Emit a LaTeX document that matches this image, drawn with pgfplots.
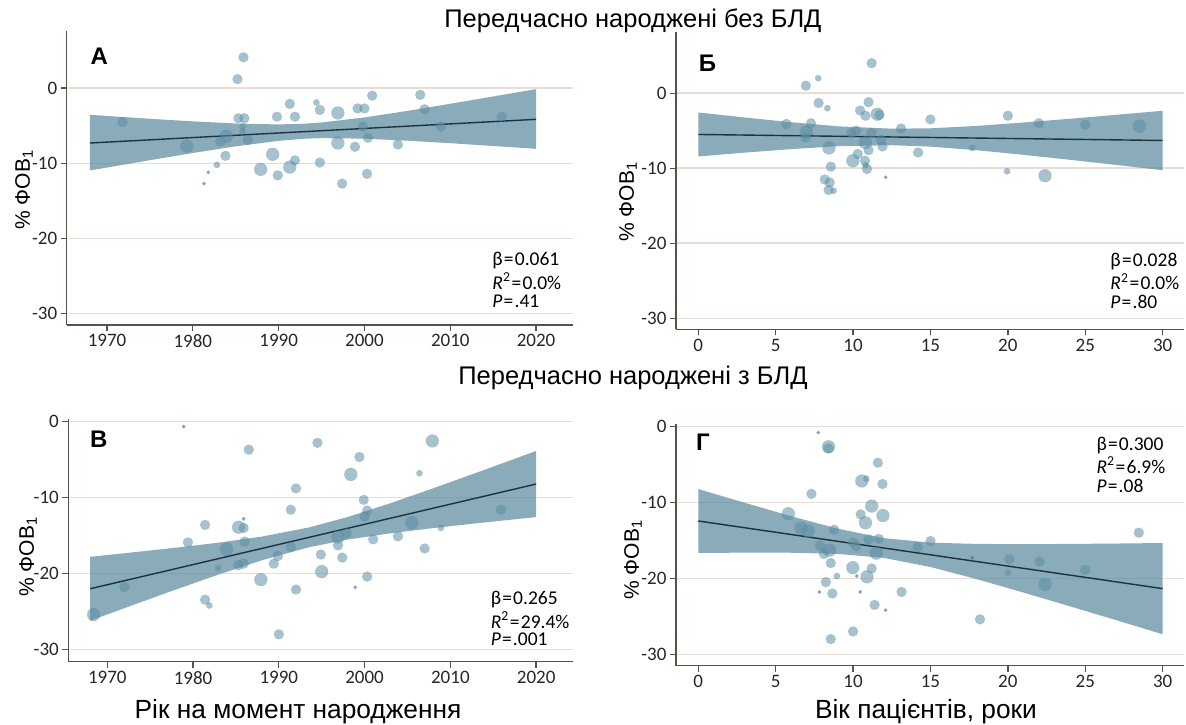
\documentclass[border=0pt]{standalone}
\usepackage{pgfplots}
\pgfplotsset{compat=1.18}
\usepgfplotslibrary{fillbetween}
\usepackage{fontspec}
\setmainfont{Liberation Sans}
\newfontfamily\tickfont{Carlito}

\definecolor{gridc}{RGB}{234,220,214}
\definecolor{axisc}{RGB}{92,80,76}
\definecolor{bandc}{RGB}{92,138,160}
\definecolor{ptc}{RGB}{92,144,166}
\definecolor{linec}{RGB}{28,50,62}

\pgfplotsset{
  panel/.style={
    scale only axis, anchor=south west,
    axis lines*=left,
    axis line style={axisc, line width=1.3pt},
    tick align=outside, major tick length=6pt,
    tick style={axisc, line width=1.3pt},
    ymajorgrids, major grid style={gridc, line width=1.5pt},
    ytick={-30,-20,-10,0}, yticklabels={-30,-20,-10,0},
    tick label style={font=\tickfont\fontsize{19}{19}\selectfont, text=black!85},
    clip=false,
  },
  yearx/.style={xtick={1970,1980,1990,2000,2010,2020}, xticklabels={1970,1980,1990,2000,2010,2020}},
  agex/.style={xtick={0,5,10,15,20,25,30}, xticklabels={0,5,10,15,20,25,30}},
  pt/.style={only marks, mark=*, color=ptc, mark size=#1, mark options={draw=ptc!70!black, draw opacity=0.15, line width=0.4pt, fill=ptc, fill opacity=0.55}},
  ptL/.style={pt=6.5pt},
  ptM/.style={pt=5pt},
  ptS/.style={pt=3.2pt},
  ptT/.style={only marks, mark=*, color=ptc, mark size=1.8pt, mark options={draw=ptc!70!black, draw opacity=0.2, fill=ptc!80!black, fill opacity=0.65}},
  band/.style={fill=bandc, fill opacity=0.72, draw=none},
  regl/.style={linec, line width=1.4pt},
}
\newcommand{\ann}[1]{\tickfont\fontsize{19.5}{19.5}\selectfont #1}
\newcommand{\eq}{\hspace{1.2pt}=\hspace{1.2pt}}
\newcommand{\plab}[1]{\fontsize{24}{24}\selectfont\bfseries #1}

\begin{document}
\begin{tikzpicture}

% ---------------- Panel A ----------------
\begin{axis}[panel, yearx, at={(66.7pt,400pt)}, width=506.3pt, height=294pt,
  xmin=1965.3, xmax=2024.3, ymin=-31.5, ymax=7.6]
\addplot[name path=ua, draw=none] coordinates {(1968,-3.55) (1975,-4.08) (1980,-4.42) (1985,-4.70) (1990,-4.83) (1993,-4.73) (1995,-4.57) (2000,-3.90) (2005,-3.03) (2010,-2.08) (2015,-1.11) (2020,-0.13)};
\addplot[name path=la, draw=none] coordinates {(1968,-10.95) (1975,-9.58) (1980,-8.62) (1985,-7.74) (1990,-7.01) (1993,-6.73) (1995,-6.65) (2000,-6.72) (2005,-6.99) (2010,-7.32) (2015,-7.69) (2020,-8.07)};
\addplot[band] fill between[of=ua and la];
\addplot[ptL] coordinates {(1979.3,-7.7) (1983.9,-6.4) (1989.3,-8.8) (1987.9,-10.8) (1991.3,-10.5) (1996.9,-3.3) (1996.9,-7.3)};
\addplot[ptM] coordinates {(1985.9,4.1) (1985.2,1.2) (1971.8,-4.5) (1983.2,-7.1) (1983.8,-9.0) (1985.3,-4.0) (1986.0,-4.0) (1986.4,-6.9) (1989.8,-3.8) (1991.3,-2.1) (1991.9,-3.8) (1989.9,-11.6) (1991.9,-9.6) (1994.8,-2.9) (1994.8,-9.9) (1997.4,-12.7) (1998.9,-7.8) (1999.2,-2.7) (2000.0,-2.7) (1999.8,-5.1) (2000.4,-6.6) (2000.9,-1.0) (2000.3,-11.4) (2003.9,-7.5) (2006.5,-0.9) (2007.0,-2.8) (2008.9,-5.1) (2016.0,-3.8)};
\addplot[ptS] coordinates {(1985.8,-5.1) (1985.8,-5.8) (1982.8,-10.2) (1994.4,-1.9)};
\addplot[ptT] coordinates {(1981.8,-11.2) (1981.3,-12.7)};
\addplot[regl] coordinates {(1968,-7.3) (2020,-4.15)};
\node[anchor=west] at (axis cs:2014.5,-22.9) {\ann{β\eq0.061}};
\node[anchor=west] at (axis cs:2014.5,-25.7) {\ann{\textit{R}\textsuperscript{2}\eq0.0\%}};
\node[anchor=west] at (axis cs:2014.5,-28.4) {\ann{\textit{P}\eq.41}};
\node at (axis cs:1969.1,4.2) {\plab{А}};
\end{axis}

% ---------------- Panel Б ----------------
\begin{axis}[panel, agex, at={(676pt,395.7pt)}, width=508pt, height=297.6pt,
  xmin=-1.44, xmax=31.38, ymin=-31.47, ymax=8.2]
\addplot[name path=ub, draw=none] coordinates {(0,-2.57) (3,-3.24) (6,-3.87) (9,-4.41) (12.5,-4.73) (15,-4.68) (18,-4.36) (21,-3.91) (24,-3.41) (27,-2.88) (30,-2.34)};
\addplot[name path=lb, draw=none] coordinates {(0,-8.43) (3,-7.92) (6,-7.45) (9,-7.07) (12.5,-6.93) (15,-7.12) (18,-7.60) (21,-8.21) (24,-8.87) (27,-9.56) (30,-10.26)};
\addplot[band] fill between[of=ub and lb];
\addplot[ptL] coordinates {(6.98,-5.2) (8.44,-7.3) (11.56,-2.8) (10.8,-6.6) (9.98,-9.0) (22.4,-11.0) (28.5,-4.4)};
\addplot[ptM] coordinates {(11.2,4.0) (6.95,1.0) (7.77,-1.3) (5.69,-4.1) (7.28,-4.0) (6.93,-5.9) (8.56,-9.8) (8.17,-11.5) (8.49,-11.9) (8.42,-12.9) (11.0,-1.2) (10.45,-2.3) (10.8,-3.0) (11.7,-2.9) (9.9,-5.3) (10.2,-5.0) (11.2,-5.3) (11.8,-6.2) (11.9,-7.1) (11.0,-7.6) (10.3,-8.1) (10.77,-9.0) (10.9,-10.1) (13.1,-4.7) (14.2,-7.9) (15.0,-3.5) (20.0,-3.0) (22.0,-4.0) (25.0,-4.2)};
\addplot[ptS] coordinates {(7.75,2.0) (8.34,-2.0) (8.74,-13.0) (10.8,-9.6) (17.7,-7.3) (19.95,-10.4)};
\addplot[ptT] coordinates {(12.1,-11.2)};
\addplot[regl] coordinates {(0,-5.5) (30,-6.3)};
\node[anchor=west] at (axis cs:26.4,-22.5) {\ann{β\eq0.028}};
\node[anchor=west] at (axis cs:26.4,-25.1) {\ann{\textit{R}\textsuperscript{2}\eq0.0\%}};
\node[anchor=west] at (axis cs:26.4,-27.8) {\ann{\textit{P}\eq.80}};
\node at (axis cs:0.6,4.0) {\plab{Б}};
\end{axis}

% ---------------- Panel В ----------------
\begin{axis}[panel, yearx, at={(68.3pt,63.3pt)}, width=504.7pt, height=242.4pt,
  xmin=1965.45, xmax=2024.3, ymin=-31.6, ymax=0.3]
\addplot[name path=uc, draw=none] coordinates {(1968,-17.80) (1973,-17.21) (1978,-16.60) (1983,-15.93) (1988,-15.14) (1993.5,-13.94) (1998,-12.57) (2003,-10.75) (2008,-8.78) (2013,-6.75) (2020,-3.87)};
\addplot[name path=lc, draw=none] coordinates {(1968,-26.20) (1973,-24.14) (1978,-22.10) (1983,-20.12) (1988,-18.26) (1993.5,-16.54) (1998,-15.53) (2003,-14.70) (2008,-14.02) (2013,-13.39) (2020,-12.57)};
\addplot[band] fill between[of=uc and lc];
\addplot[ptL] coordinates {(2007.9,-2.55) (1998.4,-6.95) (1985.3,-13.9) (2005.5,-13.3) (1983.9,-16.8) (1996.9,-15.2) (1995.0,-19.75) (1987.9,-20.8) (1968.4,-25.4)};
\addplot[ptM] coordinates {(1986.5,-3.7) (1994.5,-2.8) (1999.4,-4.66) (1992.0,-8.8) (1999.9,-10.3) (2000.3,-11.7) (2000.0,-12.5) (1991.4,-11.6) (2015.9,-11.6) (1981.4,-13.6) (1985.9,-14.0) (1979.4,-15.9) (1986.0,-15.8) (1991.4,-16.5) (1997.9,-14.7) (1996.9,-16.3) (2003.9,-15.1) (2001.0,-15.5) (2007.0,-16.7) (1989.9,-17.7) (1994.9,-17.5) (1997.4,-17.9) (1989.4,-18.7) (1985.3,-18.9) (1985.9,-18.7) (2000.3,-20.4) (1992.0,-22.1) (1972.0,-21.8) (1981.4,-23.45) (1990.0,-28.0)};
\addplot[ptS] coordinates {(2006.4,-6.8) (2008.9,-14.0) (1982.9,-19.3) (1981.9,-24.2)};
\addplot[ptT] coordinates {(1978.9,-0.66) (1998.9,-21.8) (1985.9,-12.8)};
\addplot[regl] coordinates {(1968,-22.0) (2020,-8.22)};
\node[anchor=west] at (axis cs:2014.3,-23.45) {\ann{β\eq0.265}};
\node[anchor=west] at (axis cs:2014.3,-26.1) {\ann{\textit{R}\textsuperscript{2}\eq29.4\%}};
\node[anchor=west] at (axis cs:2014.3,-28.6) {\ann{\textit{P}\eq.001}};
\node at (axis cs:1969.0,-2.33) {\plab{В}};
\end{axis}

% ---------------- Panel Г ----------------
\begin{axis}[panel, agex, at={(676pt,59.3pt)}, width=508pt, height=241.7pt,
  xmin=-1.44, xmax=31.38, ymin=-31.5, ymax=0.3]
\addplot[name path=ud, draw=none] coordinates {(0,-8.26) (3,-10.07) (6,-11.84) (9,-13.47) (12,-14.72) (15,-15.31) (18,-15.48) (21,-15.51) (24,-15.48) (27,-15.43) (30,-15.36)};
\addplot[name path=ld, draw=none] coordinates {(0,-16.66) (3,-16.63) (6,-16.64) (9,-16.79) (12,-17.32) (15,-18.51) (18,-20.12) (21,-21.87) (24,-23.68) (27,-25.51) (30,-27.36)};
\addplot[band] fill between[of=ud and ld];
\addplot[ptL] coordinates {(8.41,-2.7) (10.56,-7.2) (5.82,-11.5) (11.2,-10.5) (11.93,-11.75) (10.8,-12.7) (6.65,-13.4) (7.09,-13.8) (11.5,-16.7) (8.48,-16.3) (9.98,-18.6) (10.9,-19.8) (22.4,-20.8)};
\addplot[ptM] coordinates {(8.41,-2.9) (7.31,-8.9) (11.6,-4.8) (11.9,-7.6) (10.49,-11.6) (8.78,-13.6) (10.0,-15.3) (10.2,-15.8) (11.0,-14.9) (11.66,-14.8) (7.87,-15.7) (8.12,-16.8) (8.56,-18.0) (11.2,-18.7) (8.24,-20.5) (8.66,-22.0) (11.39,-23.5) (13.13,-21.8) (14.18,-15.9) (15.0,-15.1) (20.1,-17.5) (22.05,-17.8) (25.0,-18.9) (18.2,-25.4) (28.46,-14.0) (10.0,-27.0) (8.56,-28.0)};
\addplot[ptS] coordinates {(10.86,-6.9) (8.95,-19.7) (20.0,-19.25)};
\addplot[ptT] coordinates {(7.75,-0.83) (10.24,-19.7) (7.82,-21.8) (10.46,-21.8) (12.1,-24.2) (17.7,-17.3)};
\addplot[regl] coordinates {(0,-12.46) (30,-21.36)};
\node[anchor=west] at (axis cs:25.5,-2.5) {\ann{β\eq0.300}};
\node[anchor=west] at (axis cs:25.5,-5.1) {\ann{\textit{R}\textsuperscript{2}\eq6.9\%}};
\node[anchor=west] at (axis cs:25.5,-7.8) {\ann{\textit{P}\eq.08}};
\node at (axis cs:0.3,-2.06) {\plab{Г}};
\end{axis}

% ---------------- Titles and labels ----------------
\node at (633pt,704pt) {\fontsize{25.5}{25.5}\selectfont Передчасно народжені без БЛД};
\node at (633pt,347pt) {\fontsize{25.5}{25.5}\selectfont Передчасно народжені з БЛД};
\node at (298pt,13pt) {\fontsize{26.3}{26.3}\selectfont Рік на момент народження};
\node at (926pt,13pt) {\fontsize{26.3}{26.3}\selectfont Вік пацієнтів, роки};
\node[rotate=90] at (24pt,535pt) {\fontsize{21}{21}\selectfont \% ФОВ\textsubscript{1}};
\node[rotate=90] at (628pt,523pt) {\fontsize{21}{21}\selectfont \% ФОВ\textsubscript{1}};
\node[rotate=90] at (28pt,168pt) {\fontsize{21}{21}\selectfont \% ФОВ\textsubscript{1}};
\node[rotate=90] at (633pt,165pt) {\fontsize{21}{21}\selectfont \% ФОВ\textsubscript{1}};

\pgfresetboundingbox
\path[use as bounding box] (0pt,0pt) rectangle (1186pt,725pt);
\end{tikzpicture}
\end{document}
